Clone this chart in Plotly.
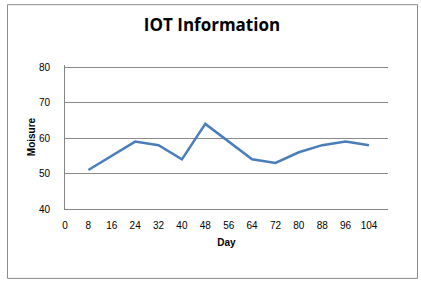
import plotly.graph_objects as go

days = [8, 16, 24, 32, 40, 48, 56, 64, 72, 80, 88, 96, 104]
moisture = [51, 55, 59, 58, 54, 64, 59, 54, 53, 56, 58, 59, 58]
x_ticks = [0, 8, 16, 24, 32, 40, 48, 56, 64, 72, 80, 88, 96, 104]
y_ticks = [40, 50, 60, 70, 80]

W, H = 421, 284
L, R, T, B = 65, 388, 67, 209
Y_TOP = 80.6
T_PLOT = B - (B - T) * (Y_TOP - 40) / 40

fig = go.Figure()
fig.add_trace(go.Scatter(x=days, y=moisture, mode="lines",
                         line=dict(color="#4A7EBB", width=2.5), showlegend=False))

pw, ph = R - L, B - T_PLOT
def px(x): return (x - L) / pw
def py(y): return (B - y) / ph

fig.update_layout(
    width=W, height=H,
    margin=dict(l=L, r=W - R, t=T_PLOT, b=H - B),
    paper_bgcolor="white", plot_bgcolor="white",
    title=dict(text="<b>IOT Information</b>", x=px(212), xref="paper", xanchor="center",
               y=1 - 25 / H, yref="container", yanchor="middle",
               font=dict(family="Open Sans", size=17, color="#000000")),
    xaxis=dict(range=[0, 110.5], tickvals=x_ticks, ticktext=[str(v) for v in x_ticks],
               showgrid=False, zeroline=False, showline=True, linecolor="#868686", linewidth=1,
               ticks="", ticklabelstandoff=7,
               tickfont=dict(family="Liberation Sans", size=10, color="#000000"),
               title=dict(text="<b>Day</b>", standoff=8,
                          font=dict(family="Liberation Sans", size=10, color="#000000"))),
    yaxis=dict(range=[40, Y_TOP], tickvals=y_ticks, showgrid=True, gridcolor="#8a8a8a", gridwidth=1,
               zeroline=False, showline=True, linecolor="#868686", linewidth=1,
               ticks="", ticklabelstandoff=12,
               tickfont=dict(family="Liberation Sans", size=10, color="#000000"),
               title=dict(text="<b>Moisure</b>", standoff=1,
                          font=dict(family="Liberation Sans", size=10, color="#000000"))),
    shapes=[dict(type="rect", xref="paper", yref="paper",
                 x0=px(7.5), x1=px(417.5), y0=py(278.5), y1=py(4.5),
                 line=dict(color="#8c8c8c", width=1), fillcolor="rgba(0,0,0,0)", layer="below")],
)

fig.write_html("out.html")
